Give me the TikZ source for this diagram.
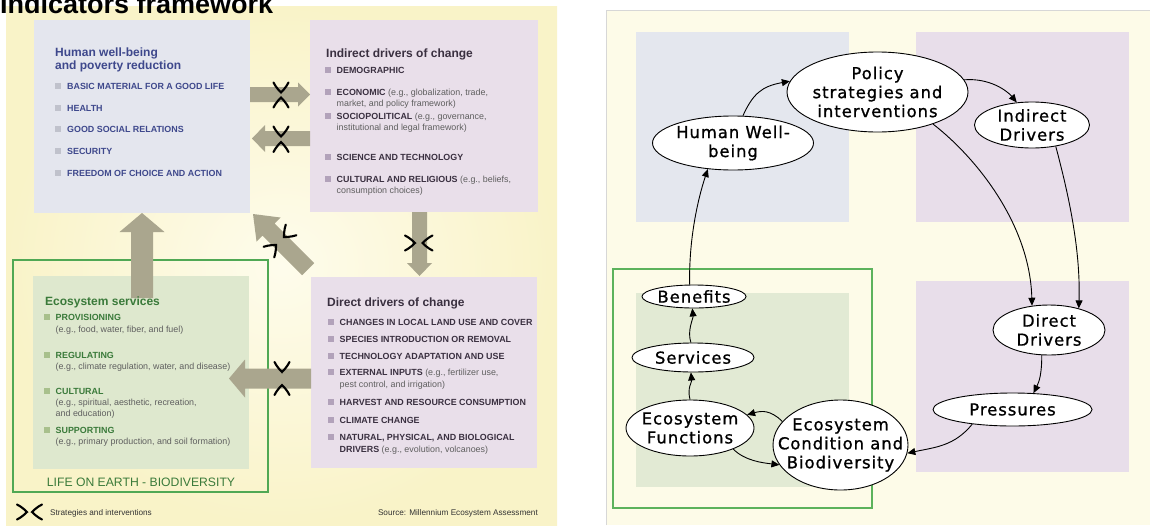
\documentclass[tikz,border=0pt]{standalone}
\usepackage{fontspec}
\setmainfont{Liberation Sans}
\newfontfamily\vfont[LetterSpace=6,FakeBold=1]{DejaVu Sans}
\usetikzlibrary{arrows.meta,shapes.geometric}

\definecolor{panelout}{RGB}{249,243,200}
\definecolor{panelin}{RGB}{254,252,236}
\definecolor{hwbbg}{RGB}{228,230,238}
\definecolor{purbg}{RGB}{233,223,234}
\definecolor{grnbg}{RGB}{222,232,206}
\definecolor{grnframe}{RGB}{80,168,84}
\definecolor{hwbtxt}{RGB}{62,72,140}
\definecolor{purtxt}{RGB}{58,48,64}
\definecolor{grntxt}{RGB}{58,122,58}
\definecolor{egtxt}{RGB}{95,95,95}
\definecolor{arrowc}{RGB}{170,166,142}
\definecolor{hwbbul}{RGB}{192,194,204}
\definecolor{purbul}{RGB}{178,162,186}
\definecolor{grnbul}{RGB}{168,192,140}
\definecolor{rbg}{RGB}{253,251,232}
\definecolor{rblue}{RGB}{228,231,238}
\definecolor{rpur}{RGB}{232,222,234}
\definecolor{rgrn}{RGB}{226,234,212}
\definecolor{rframe}{RGB}{92,178,92}
\definecolor{rline}{RGB}{215,215,215}

% bullet item: name, colour prefix, bullet x, baseline, text
\newcommand\lpitem[5]{%
  \fill[#2bul] (#3,#4-6.5) rectangle ++(6,6);
  \node[itm,text=#2txt] (#1) at (#3+12,#4) {#5};}
% big arrow: tip, rotation, length, shaft width, head width, head length
\newcommand\bigarr[6]{%
  \fill[arrowc, shift={(#1)}, rotate=#2] (0,0) -- (#6,#5/2) -- (#6,#4/2) -- (#3,#4/2)
    -- (#3,-#4/2) -- (#6,-#4/2) -- (#6,-#5/2) -- cycle;}

\begin{document}
\begin{tikzpicture}[x=1pt,y=-1pt,
  ttl/.style={anchor=base west, inner sep=0, font=\fontsize{12}{14}\selectfont\bfseries},
  itm/.style={anchor=base west, inner sep=0, font=\fontsize{8.9}{10}\selectfont\bfseries},
  itmeg/.style={anchor=base west, inner sep=0, font=\fontsize{8.9}{10}\selectfont, text=egtxt},
  srcnote/.style={inner sep=0, font=\fontsize{8.2}{10}\selectfont, text=black!80},
  rell/.style={ellipse, draw=black, fill=white, line width=0.9pt, inner sep=0},
  lbl/.style={inner sep=0, align=center, font=\vfont\fontsize{16.4}{19}\selectfont},
  flow/.style={line width=0.9pt, -{Triangle[length=8pt,width=7pt]}},
  smark/.pic={\draw[line width=2.1pt, line cap=round] (-7.5,-10) .. controls (-5,-5) and (-1.5,-1.5) .. (0,0) .. controls (1.5,-1.5) and (5,-5) .. (7.5,-10);}
]
\useasboundingbox (0,0) rectangle (1150,525);
\fill[white] (0,0) rectangle (1150,525);

% ---------------- left panel ----------------
\shade[inner color=panelin, outer color=panelout] (6,6) rectangle (557,525);
\begin{scope}
  \clip (0,0) rectangle (1150,525);
  \node[anchor=base west, inner sep=0, font=\fontsize{27}{30}\selectfont\bfseries] (title) at (0,13.5) {Indicators framework};
\end{scope}

\fill[hwbbg] (34,20) rectangle (250,213);
\fill[purbg] (310,20) rectangle (538,212);
\fill[purbg] (311,277) rectangle (537,468);
\fill[grnbg] (33,276) rectangle (249,469);
\draw[grnframe, line width=2pt] (13,260) rectangle (268,492);

% big arrows
\bigarr{142,213}{-90}{85}{22}{45}{19}
\bigarr{310,94.5}{180}{60}{15}{24}{12}
\bigarr{252,138.5}{0}{58}{15}{27}{13}
\bigarr{419.5,276}{90}{64}{15}{25}{13}
\bigarr{253,214}{-45}{78}{17}{34}{22}
\bigarr{229,378.5}{0}{82}{20}{38}{16}

% strategy marks
\pic[rotate=0] at (281,92.5) {smark};
\pic[rotate=180] at (281,97.5) {smark};
\pic[rotate=0] at (281,136.5) {smark};
\pic[rotate=180] at (281,142) {smark};
\pic[rotate=0] at (282,372) {smark};
\pic[rotate=180] at (282,385) {smark};
\pic[rotate=90] at (415,243) {smark};
\pic[rotate=-90] at (422.5,243) {smark};
\pic[rotate=-45] at (284,237) {smark};
\pic[rotate=135] at (276,245) {smark};

% human well-being
\node[ttl,text=hwbtxt] (hwt1) at (55,56.5) {Human well-being};
\node[ttl,text=hwbtxt] (hwt2) at (55,69) {and poverty reduction};
\lpitem{hw1}{hwb}{55}{89}{BASIC MATERIAL FOR A GOOD LIFE}
\lpitem{hw2}{hwb}{55}{111}{HEALTH}
\lpitem{hw3}{hwb}{55}{132.5}{GOOD SOCIAL RELATIONS}
\lpitem{hw4}{hwb}{55}{154}{SECURITY}
\lpitem{hw5}{hwb}{55}{176}{FREEDOM OF CHOICE AND ACTION}

% indirect drivers
\node[ttl,text=purtxt] (idt) at (326,57) {Indirect drivers of change};
\lpitem{id1}{pur}{324.5}{73.5}{DEMOGRAPHIC}
\lpitem{id2}{pur}{324.5}{95}{ECONOMIC {\mdseries\color{egtxt}(e.g., globalization, trade,}}
\node[itmeg] (id2b) at (336.5,106) {market, and policy framework)};
\lpitem{id3}{pur}{324.5}{119.5}{SOCIOPOLITICAL {\mdseries\color{egtxt}(e.g., governance,}}
\node[itmeg] (id3b) at (336.5,130.5) {institutional and legal framework)};
\lpitem{id4}{pur}{324.5}{160.5}{SCIENCE AND TECHNOLOGY}
\lpitem{id5}{pur}{324.5}{182}{CULTURAL AND RELIGIOUS {\mdseries\color{egtxt}(e.g., beliefs,}}
\node[itmeg] (id5b) at (336.5,193) {consumption choices)};

% direct drivers
\node[ttl,text=purtxt] (ddt) at (327,306) {Direct drivers of change};
\lpitem{dd1}{pur}{327.5}{325.5}{CHANGES IN LOCAL LAND USE AND COVER}
\lpitem{dd2}{pur}{327.5}{342.5}{SPECIES INTRODUCTION OR REMOVAL}
\lpitem{dd3}{pur}{327.5}{359.5}{TECHNOLOGY ADAPTATION AND USE}
\lpitem{dd4}{pur}{327.5}{375.5}{EXTERNAL INPUTS {\mdseries\color{egtxt}(e.g., fertilizer use,}}
\node[itmeg] (dd4b) at (339.5,387) {pest control, and irrigation)};
\lpitem{dd5}{pur}{327.5}{405.5}{HARVEST AND RESOURCE CONSUMPTION}
\lpitem{dd6}{pur}{327.5}{423}{CLIMATE CHANGE}
\lpitem{dd7}{pur}{327.5}{440}{NATURAL, PHYSICAL, AND BIOLOGICAL}
\node[itm,text=purtxt] (dd7b) at (339.5,452.5) {DRIVERS {\mdseries\color{egtxt}(e.g., evolution, volcanoes)}};

% ecosystem services
\node[ttl,text=grntxt] (est) at (45,305.5) {Ecosystem services};
\lpitem{es1}{grn}{43.5}{320.5}{PROVISIONING}
\node[itmeg] (es1b) at (55.5,332) {(e.g., food, water, fiber, and fuel)};
\lpitem{es2}{grn}{43.5}{358.5}{REGULATING}
\node[itmeg] (es2b) at (55.5,369.5) {(e.g., climate regulation, water, and disease)};
\lpitem{es3}{grn}{43.5}{394.5}{CULTURAL}
\node[itmeg] (es3b) at (55.5,405.5) {(e.g., spiritual, aesthetic, recreation,};
\node[itmeg] (es3c) at (55.5,416.5) {and education)};
\lpitem{es4}{grn}{43.5}{433.5}{SUPPORTING}
\node[itmeg] (es4b) at (55.5,444.5) {(e.g., primary production, and soil formation)};
\node[anchor=base, inner sep=0, font=\fontsize{12.2}{14}\selectfont, text=grntxt] (life) at (141,486) {LIFE ON EARTH - BIODIVERSITY};

% legend and source
\pic[rotate=90] at (27,512) {smark};
\pic[rotate=-90] at (32,512) {smark};
\node[srcnote, anchor=base west] (leg) at (50,515) {Strategies and interventions};
\node[srcnote, anchor=base east] (src) at (538,515) {Source: Millennium Ecosystem Assessment};

% ---------------- right panel ----------------
\fill[rbg] (606,10) rectangle (1150,525);
\draw[rline, line width=0.8pt] (606,525) -- (606,10) -- (1150,10);
\fill[rblue] (636,32) rectangle (849,222);
\fill[rpur] (916,32) rectangle (1129,222);
\fill[rpur] (916,281) rectangle (1129,472);
\fill[rgrn] (636,293) rectangle (849,487);
\draw[rframe, line width=2.5pt] (613,269) rectangle (872,508);

\node[rell, minimum width=161, minimum height=54, label={[lbl]center:{Human Well-\\being}}] (hw) at (733,143) {};
\node[rell, minimum width=181, minimum height=80, label={[lbl]center:{Policy\\strategies and\\interventions}}] (pol) at (877.5,92) {};
\node[rell, minimum width=115, minimum height=46, label={[lbl]center:{Indirect\\Drivers}}] (ind) at (1032,125) {};
\node[rell, minimum width=112, minimum height=50, label={[lbl]center:{Direct\\Drivers}}] (dd) at (1049,330) {};
\node[rell, minimum width=159, minimum height=33, label={[lbl]center:{Pressures}}] (pr) at (1012.5,409.5) {};
\node[rell, minimum width=135, minimum height=90, label={[lbl]center:{Ecosystem\\Condition and\\Biodiversity}}] (ec) at (840.5,445) {};
\node[rell, minimum width=128, minimum height=56, label={[lbl]center:{Ecosystem\\Functions}}] (ef) at (690,428) {};
\node[rell, minimum width=122, minimum height=29, label={[lbl]center:{Services}}] (sv) at (693,357.5) {};
\node[rell, minimum width=104, minimum height=23, label={[lbl]center:{Benefits}}] (bn) at (694,296.5) {};

\draw[flow] (bn.110) .. controls +(-1,-45) and +(-10,30) .. (hw.226);
\draw[flow] (hw.70) .. controls +(10,-22) and +(-28,5) .. (pol.173);
\draw[flow] (pol.8) .. controls +(25,-2) and +(-10,-12) .. (ind.124);
\draw[flow] (pol.-30) .. controls +(45,35) and +(-2,-80) .. (dd.125);
\draw[flow] (ind.-42) .. controls +(12,45) and +(2,-60) .. (dd.36);
\draw[flow] (dd.254) .. controls +(0,18) and +(6,-12) .. (pr.38);
\draw[flow] (pr.200) .. controls +(-18,22) and +(28,-6) .. (ec.-7);
\draw[flow] (ec.158) .. controls +(-12,-12) and +(14,-4) .. (ef.13);
\draw[flow] (ef.-26) .. controls +(12,12) and +(-16,-2) .. (ec.198);
\draw[flow] (ef.90) .. controls +(-3,-12) and +(1,10) .. (sv.262);
\draw[flow] (sv.98) .. controls +(-4,-12) and +(1,10) .. (bn.262);
\end{tikzpicture}
\end{document}
